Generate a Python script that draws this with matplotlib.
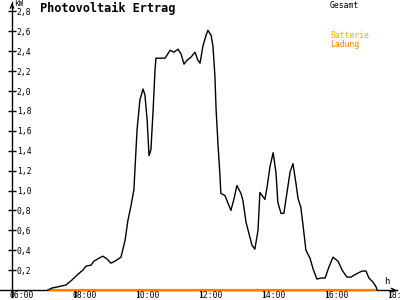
import matplotlib
matplotlib.use('Agg')
import matplotlib.pyplot as plt
from matplotlib.transforms import ScaledTranslation

# ---- data ----
hours = [7.14, 7.27, 7.43, 7.71, 7.90, 8.10, 8.25, 8.35, 8.51, 8.60, 8.76, 8.89,
         9.02, 9.14, 9.27, 9.46, 9.59, 9.68, 9.78, 9.87, 9.97, 10.06, 10.16, 10.22,
         10.29, 10.35, 10.41, 10.48, 10.54, 10.57, 10.86, 11.02, 11.14, 11.27, 11.37,
         11.46, 11.56, 11.68, 11.81, 11.90, 11.97, 12.06, 12.16, 12.22, 12.32, 12.38,
         12.44, 12.48, 12.54, 12.60, 12.63, 12.76, 12.86, 12.95, 13.05, 13.14, 13.27,
         13.33, 13.43, 13.52, 13.62, 13.71, 13.81, 13.87, 14.03, 14.10, 14.19, 14.29,
         14.38, 14.44, 14.54, 14.63, 14.73, 14.83, 14.92, 15.02, 15.08, 15.17, 15.24,
         15.33, 15.46, 15.56, 15.68, 15.81, 15.94, 16.06, 16.19, 16.35, 16.48, 16.63,
         16.76, 16.92, 17.11, 17.24, 17.33, 17.46, 17.56, 17.59]
power_kw = [0.00, 0.02, 0.03, 0.05, 0.10, 0.16, 0.20, 0.24, 0.25, 0.29, 0.32, 0.34,
            0.31, 0.27, 0.29, 0.33, 0.50, 0.70, 0.85, 1.01, 1.61, 1.91, 2.02, 1.96,
            1.71, 1.35, 1.41, 1.81, 2.21, 2.33, 2.33, 2.41, 2.39, 2.42, 2.37,
            2.27, 2.31, 2.34, 2.39, 2.31, 2.28, 2.45, 2.56, 2.61, 2.56, 2.45,
            2.16, 1.81, 1.46, 1.16, 0.97, 0.95, 0.87, 0.80, 0.92, 1.05, 0.97,
            0.90, 0.68, 0.57, 0.45, 0.41, 0.60, 0.98, 0.91, 1.04, 1.24, 1.38,
            1.18, 0.88, 0.77, 0.77, 0.98, 1.19, 1.27, 1.06, 0.92, 0.83, 0.65,
            0.40, 0.32, 0.21, 0.11, 0.12, 0.12, 0.23, 0.33, 0.29, 0.20, 0.13,
            0.13, 0.16, 0.19, 0.19, 0.12, 0.08, 0.03, 0.00]
charge_hours = [7.14, 17.59]
charge_kw = [0.0, 0.0]
y_ticks = [0.2, 0.4, 0.6, 0.8, 1.0, 1.2, 1.4, 1.6, 1.8, 2.0, 2.2, 2.4, 2.6, 2.8]
y_labels = ['0,2', '0,4', '0,6', '0,8', '1,0', '1,2', '1,4', '1,6', '1,8', '2,0',
            '2,2', '2,4', '2,6', '2,8']
x_ticks = [6, 8, 10, 12, 14, 16, 18]
x_labels = ['06:00', '08:00', '10:00', '12:00', '14:00', '16:00', '18:00']

title = 'Photovoltaik Ertrag'
legend_total = 'Gesamt'
legend_batt = 'Batterie'
legend_charge = 'Ladung'

# ---- layout helpers (pixel -> data) ----
PX_H = 31.5
PX_V = 99.5
def tx(px):
    return 6 + (px - 12) / PX_H
def vy(py):
    return (290 - py) / PX_V

plt.rcParams['font.family'] = ['DejaVu Sans Mono']

fig = plt.figure(figsize=(4, 3), dpi=100)
ax = fig.add_axes([0, 0, 1, 1])
ax.set_xlim(tx(0), tx(400))
ax.set_ylim(vy(300), vy(0))

ax.spines['top'].set_visible(False)
ax.spines['left'].set_visible(False)
ax.spines['right'].set_position(('data', 6))
ax.spines['bottom'].set_position(('data', 0))
ax.spines['right'].set_bounds(vy(297), vy(2))
ax.spines['bottom'].set_bounds(tx(0), tx(397))
for s in ('right', 'bottom'):
    ax.spines[s].set_linewidth(1)

ax.yaxis.tick_right()
ax.set_yticks(y_ticks, y_labels)
ax.set_xticks(x_ticks, x_labels)
ax.tick_params(axis='y', direction='inout', length=6, width=1, pad=0.5, labelsize=5.8)
ax.tick_params(axis='x', direction='out', length=5, width=1, pad=-4.2, labelsize=5.8)
off = ScaledTranslation(-3 / 100, 0, fig.dpi_scale_trans)
for lbl in ax.get_xticklabels():
    lbl.set_ha('left')
    lbl.set_transform(lbl.get_transform() + off)

# arrows
ax.annotate('', xy=(6, vy(0.5)), xytext=(6, vy(8)),
            arrowprops=dict(arrowstyle='->', lw=1, color='black', mutation_scale=6))
ax.annotate('', xy=(tx(399), 0), xytext=(tx(390), 0),
            arrowprops=dict(arrowstyle='->', lw=1, color='black', mutation_scale=6))

ax.plot(charge_hours, charge_kw, color='#ff8000', lw=1.6, zorder=3, solid_capstyle='butt')
ax.plot(hours, power_kw, color='black', lw=1, zorder=4)

# texts
fig.text(40 / 400, 1 - 8 / 300, title, ha='left', va='center', fontsize=8.6,
         fontweight='bold', color='black')
fig.text(14 / 400, 1 - 4 / 300, 'kW', ha='left', va='center', fontsize=5.5, color='black')
fig.text(384 / 400, 1 - 282 / 300, 'h', ha='left', va='center', fontsize=6.5, color='black')
fig.text(330 / 400, 1 - 5 / 300, legend_total, ha='left', va='center', fontsize=5.8, color='black')
fig.text(330 / 400, 1 - 36 / 300, legend_batt, ha='left', va='center', fontsize=5.8, color='#ffb000')
fig.text(330 / 400, 1 - 44 / 300, legend_charge, ha='left', va='center', fontsize=5.8, color='#ff8000')

fig.savefig('out.png', dpi=100)
